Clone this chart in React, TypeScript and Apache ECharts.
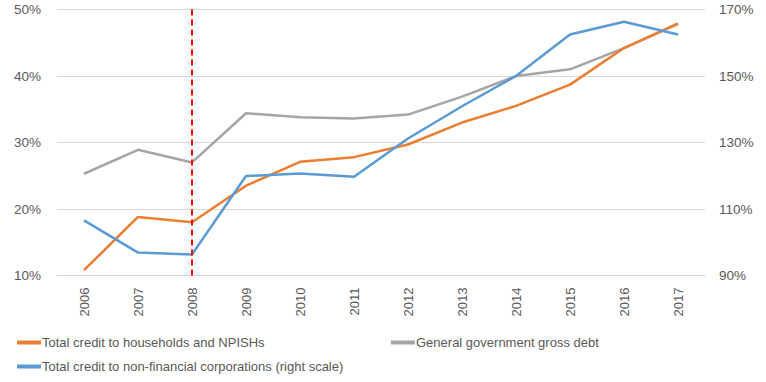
import React, { useEffect, useRef } from "react";
import * as echarts from "echarts";

const years = ["2006", "2007", "2008", "2009", "2010", "2011", "2012", "2013", "2014", "2015", "2016", "2017"];
const households = [10.8, 18.8, 18.0, 23.5, 27.1, 27.8, 29.7, 33.0, 35.5, 38.7, 44.2, 47.9];
const government = [25.3, 28.9, 27.0, 34.4, 33.8, 33.6, 34.2, 36.9, 40.0, 41.0, 44.2, 47.8];
const corporations = [106.6, 96.9, 96.3, 119.9, 120.7, 119.7, 131.2, 140.9, 150.0, 162.5, 166.3, 162.5];
const leftTicks = [10, 20, 30, 40, 50];
const rightTicks = [90, 110, 130, 150, 170];
const crisisYear = "2008";

const names = {
  hh: "Total credit to households and NPISHs",
  gov: "General government gross debt",
  nfc: "Total credit to non-financial corporations (right scale)",
};

const FONT = "Liberation Sans, Arial, sans-serif";
const TXT = "#595959";

export default function App() {
  const ref = useRef<HTMLDivElement>(null);
  useEffect(() => {
    if (!ref.current) return;
    const chart = echarts.init(ref.current, undefined, { renderer: "svg" });
    const legendBase = {
      icon: "rect",
      itemWidth: 24,
      itemHeight: 4,
      itemGap: 0,
      padding: 0,
      textStyle: { color: TXT, fontSize: 13, fontFamily: FONT, padding: [0, 0, 0, -4] },
    };
    chart.setOption({
      animation: false,
      textStyle: { fontFamily: FONT },
      grid: { left: 57, right: 61, top: 9.5, bottom: 106.5, containLabel: false },
      legend: [
        { ...legendBase, data: [names.hh], left: 17, top: 336 },
        { ...legendBase, data: [names.gov], left: 391, top: 336 },
        { ...legendBase, data: [names.nfc], left: 17, top: 360 },
      ],
      xAxis: {
        type: "category",
        data: years,
        boundaryGap: true,
        axisLine: { lineStyle: { color: "#d9d9d9", width: 1 } },
        axisTick: { show: false },
        axisLabel: { rotate: 90, margin: 12, color: TXT, fontSize: 13, fontFamily: FONT },
      },
      yAxis: [
        {
          type: "value",
          min: leftTicks[0],
          max: leftTicks[leftTicks.length - 1],
          interval: 10,
          axisLine: { show: false },
          axisTick: { show: false },
          splitLine: { lineStyle: { color: "#d9d9d9", width: 1 } },
          axisLabel: { formatter: "{value}%", color: TXT, fontSize: 13.5, fontFamily: FONT, margin: 16 },
        },
        {
          type: "value",
          min: rightTicks[0],
          max: rightTicks[rightTicks.length - 1],
          position: "right",
          axisLine: { show: false },
          axisTick: { show: false },
          splitLine: { show: false },
          axisLabel: {
            customValues: rightTicks,
            formatter: "{value}%",
            color: TXT,
            fontSize: 13.5,
            fontFamily: FONT,
            margin: 14,
          },
        },
      ],
      series: [
        {
          name: names.hh,
          type: "line",
          data: households,
          yAxisIndex: 0,
          symbol: "none",
          color: "#ED7D31",
          lineStyle: { width: 2.5, color: "#ED7D31" },
          z: 3,
          markLine: {
            silent: true,
            symbol: "none",
            label: { show: false },
            lineStyle: { color: "#FF0000", type: [6, 4], width: 2 },
            data: [{ xAxis: crisisYear }],
          },
        },
        {
          name: names.gov,
          type: "line",
          data: government,
          yAxisIndex: 0,
          symbol: "none",
          color: "#A5A5A5",
          lineStyle: { width: 2.5, color: "#A5A5A5" },
          z: 2,
        },
        {
          name: names.nfc,
          type: "line",
          data: corporations,
          yAxisIndex: 1,
          symbol: "none",
          color: "#5B9BD5",
          lineStyle: { width: 2.5, color: "#5B9BD5" },
          z: 4,
        },
      ],
    });
    return () => chart.dispose();
  }, []);
  return <div ref={ref} style={{ width: 766, height: 382, position: "absolute", left: 0, top: 0 }} />;
}
